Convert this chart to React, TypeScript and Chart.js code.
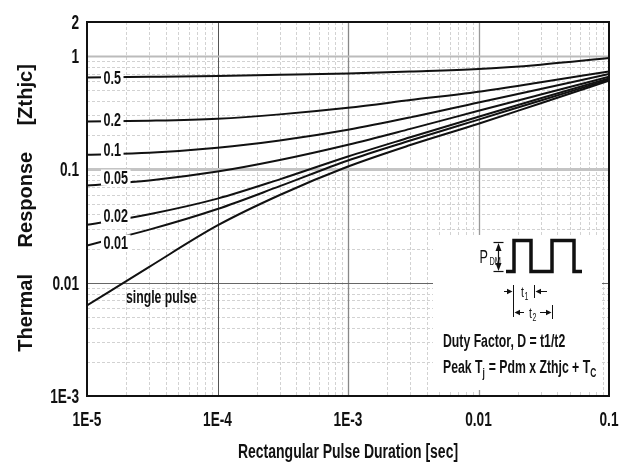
import React, { useEffect, useRef } from 'react';
import { Chart, registerables } from 'chart.js';
Chart.register(...registerables);

// ---- data ----
const PULSE_DURATION = [1e-5, 3e-5, 1e-4, 3e-4, 1e-3, 3e-3, 1e-2, 3e-2, 1e-1];
const D_050 = [0.648, 0.656, 0.667, 0.683, 0.703, 0.73, 0.768, 0.84, 0.96];
const D_020 = [0.265, 0.269, 0.28, 0.306, 0.35, 0.409, 0.485, 0.588, 0.732];
const D_010 = [0.135, 0.14, 0.155, 0.18, 0.224, 0.288, 0.39, 0.512, 0.694];
const D_005 = [0.072, 0.0798, 0.0957, 0.121, 0.165, 0.228, 0.329, 0.458, 0.657];
const D_002 = [0.0324, 0.0402, 0.0552, 0.0817, 0.13, 0.192, 0.292, 0.425, 0.635];
const D_001 = [0.0213, 0.0294, 0.0447, 0.0711, 0.12, 0.18, 0.275, 0.406, 0.619];
const SINGLE_PULSE = [0.0063, 0.0138, 0.032, 0.0594, 0.106, 0.164, 0.253, 0.384, 0.606];
const SERIES = [D_050, D_020, D_010, D_005, D_002, D_001, SINGLE_PULSE];
const SERIES_LABELS = ['0.5', '0.2', '0.1', '0.05', '0.02', '0.01', 'single pulse'];

const X_TICKS = [1e-5, 1e-4, 1e-3, 1e-2, 1e-1];
const X_TICK_LABELS = ['1E-5', '1E-4', '1E-3', '0.01', '0.1'];
const Y_TICKS = [1e-3, 1e-2, 1e-1, 1, 2];
const Y_TICK_LABELS = ['1E-3', '0.01', '0.1', '1', '2'];
const X_TITLE = 'Rectangular Pulse Duration [sec]';
const Y_TITLE = 'Thermal Response [Zthjc]';
const NOTE_DUTY = 'Duty Factor, D = t1/t2';

const FONT = '"Liberation Sans", Arial, Helvetica, sans-serif';
const SX = 0.7;

function txt(ctx: any, s: string, x: number, y: number, size: number, o: any = {}) {
  const sx = o.sx ?? SX;
  ctx.save();
  ctx.translate(x, y);
  if (o.rot) ctx.rotate(o.rot);
  ctx.scale(sx, 1);
  ctx.font = `${o.bold === false ? '' : 'bold '}${size}px ${FONT}`;
  ctx.textAlign = o.align || 'left';
  ctx.textBaseline = 'alphabetic';
  ctx.fillStyle = o.color || '#111';
  if (o.wordSpacing) (ctx as any).wordSpacing = o.wordSpacing;
  ctx.fillText(s, 0, 0);
  const w = ctx.measureText(s).width * sx;
  ctx.restore();
  return w;
}

function line(ctx: any, x1: number, y1: number, x2: number, y2: number, w = 1, c = '#111', dash: number[] = []) {
  ctx.save();
  ctx.strokeStyle = c;
  ctx.lineWidth = w;
  ctx.setLineDash(dash);
  ctx.beginPath();
  ctx.moveTo(x1, y1);
  ctx.lineTo(x2, y2);
  ctx.stroke();
  ctx.restore();
}

function tri(ctx: any, pts: number[][]) {
  ctx.save();
  ctx.fillStyle = '#111';
  ctx.beginPath();
  ctx.moveTo(pts[0][0], pts[0][1]);
  ctx.lineTo(pts[1][0], pts[1][1]);
  ctx.lineTo(pts[2][0], pts[2][1]);
  ctx.closePath();
  ctx.fill();
  ctx.restore();
}

const decoPlugin = {
  id: 'deco',
  beforeDraw(chart: any) {
    const ctx = chart.ctx;
    ctx.save();
    ctx.fillStyle = '#fff';
    ctx.fillRect(0, 0, chart.width, chart.height);
    ctx.restore();
  },
  beforeDatasetsDraw(chart: any) {
    const ctx = chart.ctx;
    const { left, right, top, bottom } = chart.chartArea;
    const xs = chart.scales.x;
    const ys = chart.scales.y;
    // minor grid
    for (let d = -5; d <= -1; d++) {
      for (let m = 2; m <= 9; m++) {
        const v = m * Math.pow(10, d);
        if (v >= 0.1) continue;
        const px = Math.round(xs.getPixelForValue(v)) + 0.5;
        line(ctx, px, top, px, bottom, 1, '#d2d2d2', [3, 2]);
      }
    }
    for (let d = -3; d <= 0; d++) {
      for (let m = 2; m <= 9; m++) {
        const v = m * Math.pow(10, d);
        if (v >= 2) continue;
        const py = Math.round(ys.getPixelForValue(v)) + 0.5;
        line(ctx, left, py, right, py, 1, '#d2d2d2', [3, 2]);
      }
    }
    // major grid
    const vx: any = { '-4': ['#555', 1], '-3': ['#888', 1.3], '-2': ['#999', 1.3] };
    for (const d of [-4, -3, -2]) {
      const px = Math.round(xs.getPixelForValue(Math.pow(10, d))) + 0.5;
      line(ctx, px, top, px, bottom, vx[String(d)][1], vx[String(d)][0]);
    }
    const hy: any = { '0': ['#bbb', 2], '-1': ['#c4c4c4', 3], '-2': ['#666', 1] };
    for (const d of [0, -1, -2]) {
      const py = Math.round(ys.getPixelForValue(Math.pow(10, d))) + 0.5;
      line(ctx, left, py, right, py, hy[String(d)][1], hy[String(d)][0]);
    }
  },
  afterDatasetsDraw(chart: any) {
    const ctx = chart.ctx;
    const { left, right, top, bottom } = chart.chartArea;
    const xs = chart.scales.x;
    const ys = chart.scales.y;
    const ox = right - 609;
    const oy = bottom - 396;

    // inset white box
    ctx.save();
    ctx.fillStyle = '#fff';
    ctx.fillRect(ox + 433, oy + 235, 169, 155);
    ctx.restore();

    // pulse waveform
    ctx.save();
    ctx.strokeStyle = '#111';
    ctx.lineWidth = 3.5;
    ctx.lineJoin = 'miter';
    ctx.beginPath();
    const yb = oy + 271.5, yt = oy + 240.5;
    const wave = [[506, yb], [514, yb], [514, yt], [531, yt], [531, yb], [552, yb], [552, yt], [574, yt], [574, yb], [582, yb]];
    wave.forEach((p, i) => (i ? ctx.lineTo(ox + p[0], p[1]) : ctx.moveTo(ox + p[0], p[1])));
    ctx.stroke();
    ctx.restore();

    // P_DM arrow
    const ax = ox + 498.5;
    line(ctx, ax - 5, oy + 242.5, ax + 5, oy + 242.5, 1.2);
    line(ctx, ax - 5, oy + 271.5, ax + 5, oy + 271.5, 1.2);
    line(ctx, ax, oy + 249, ax, oy + 265, 1.2);
    tri(ctx, [[ax, oy + 243], [ax - 3, oy + 251], [ax + 3, oy + 251]]);
    tri(ctx, [[ax, oy + 271], [ax - 3, oy + 263], [ax + 3, oy + 263]]);
    txt(ctx, 'P', ox + 479.5, oy + 262.5, 18, { bold: false });
    txt(ctx, 'DM', ox + 489.5, oy + 265, 10.5, { bold: false });

    // t1 / t2 markers
    const r1 = oy + 291.5, r2 = oy + 312.5;
    line(ctx, ox + 513.5, oy + 285, ox + 513.5, oy + 317, 1);
    line(ctx, ox + 534.5, oy + 285, ox + 534.5, oy + 298, 1);
    line(ctx, ox + 552.5, oy + 305, ox + 552.5, oy + 319, 1);
    line(ctx, ox + 504, r1, ox + 508, r1, 1);
    tri(ctx, [[ox + 512.5, r1], [ox + 507, r1 - 2.8], [ox + 507, r1 + 2.8]]);
    line(ctx, ox + 541, r1, ox + 547, r1, 1);
    tri(ctx, [[ox + 535.5, r1], [ox + 541, r1 - 2.8], [ox + 541, r1 + 2.8]]);
    txt(ctx, 't', ox + 521, oy + 297, 15, { bold: false });
    txt(ctx, '1', ox + 524.5, oy + 299.5, 10, { bold: false });
    tri(ctx, [[ox + 514.5, r2], [ox + 520, r2 - 2.8], [ox + 520, r2 + 2.8]]);
    line(ctx, ox + 520, r2, ox + 524, r2, 1);
    txt(ctx, 't', ox + 529, oy + 318, 15, { bold: false });
    txt(ctx, '2', ox + 532.5, oy + 320.5, 10, { bold: false });
    line(ctx, ox + 540, r2, ox + 546, r2, 1);
    tri(ctx, [[ox + 551.5, r2], [ox + 546, r2 - 2.8], [ox + 546, r2 + 2.8]]);

    // inset notes
    txt(ctx, NOTE_DUTY, ox + 443, oy + 346.5, 17.5);
    let cx = ox + 443;
    const b = oy + 373;
    cx += txt(ctx, 'Peak T', cx, b, 17.5);
    cx += txt(ctx, 'j', cx, b + 4, 12) + 0.5;
    cx += txt(ctx, ' = Pdm x Zthjc + T', cx, b, 17.5);
    txt(ctx, 'C', cx, b + 4, 12);

    // series labels with white background
    const dys = [0, -2, -5, -8, -9, -3];
    for (let i = 0; i < 6; i++) {
      const yc = ys.getPixelForValue(SERIES[i][0]) + dys[i];
      ctx.save();
      ctx.font = `bold 18px ${FONT}`;
      const w = ctx.measureText(SERIES_LABELS[i]).width * SX;
      ctx.restore();
      const lx = left + 16.5;
      ctx.save();
      ctx.fillStyle = '#fff';
      ctx.fillRect(lx - 2.5, yc - 8, w + 5, 16);
      ctx.restore();
      txt(ctx, SERIES_LABELS[i], lx, yc + 6.5, 18);
    }
    txt(ctx, SERIES_LABELS[6], left + 39, ys.getPixelForValue(0.01) + 20, 17.5);

    // plot border
    ctx.save();
    ctx.strokeStyle = '#111';
    ctx.lineWidth = 2;
    ctx.strokeRect(left, top, right - left, bottom - top);
    ctx.restore();

    // tick labels
    Y_TICKS.forEach((v, i) => {
      txt(ctx, Y_TICK_LABELS[i], left - 8, ys.getPixelForValue(v) + 7, 19.5, { align: 'right' });
    });
    X_TICKS.forEach((v, i) => {
      txt(ctx, X_TICK_LABELS[i], xs.getPixelForValue(v), bottom + 30, 19.5, { align: 'center' });
    });

    // axis titles
    txt(ctx, X_TITLE, (left + right) / 2, bottom + 62, 20, { align: 'center' });
    txt(ctx, Y_TITLE, 32, (top + bottom) / 2 - 1, 20, { align: 'center', rot: -Math.PI / 2, sx: 1, wordSpacing: '21px' });
  },
};

export default function App() {
  const ref = useRef<HTMLCanvasElement | null>(null);
  useEffect(() => {
    if (!ref.current) return;
    const chart = new Chart(ref.current, {
      type: 'line',
      data: {
        datasets: SERIES.map((vals, i) => ({
          label: SERIES_LABELS[i],
          data: PULSE_DURATION.map((x, j) => ({ x, y: vals[j] })),
          borderColor: '#111',
          borderWidth: 2,
          pointRadius: 0,
          fill: false,
          cubicInterpolationMode: 'monotone',
        })),
      },
      options: {
        responsive: false,
        animation: false,
        devicePixelRatio: 1,
        events: [],
        layout: { padding: { left: 87, right: 26, top: 22, bottom: 68 } },
        plugins: { legend: { display: false }, tooltip: { enabled: false } },
        scales: {
          x: { type: 'logarithmic', min: 1e-5, max: 0.1, display: false },
          y: { type: 'logarithmic', min: 1e-3, max: 2, display: false },
        },
      } as any,
      plugins: [decoPlugin],
    } as any);
    return () => chart.destroy();
  }, []);
  return (
    <div style={{ position: 'fixed', left: 0, top: 0, width: 635, height: 464, background: '#fff' }}>
      <canvas ref={ref} width={635} height={464} style={{ display: 'block' }} />
    </div>
  );
}
